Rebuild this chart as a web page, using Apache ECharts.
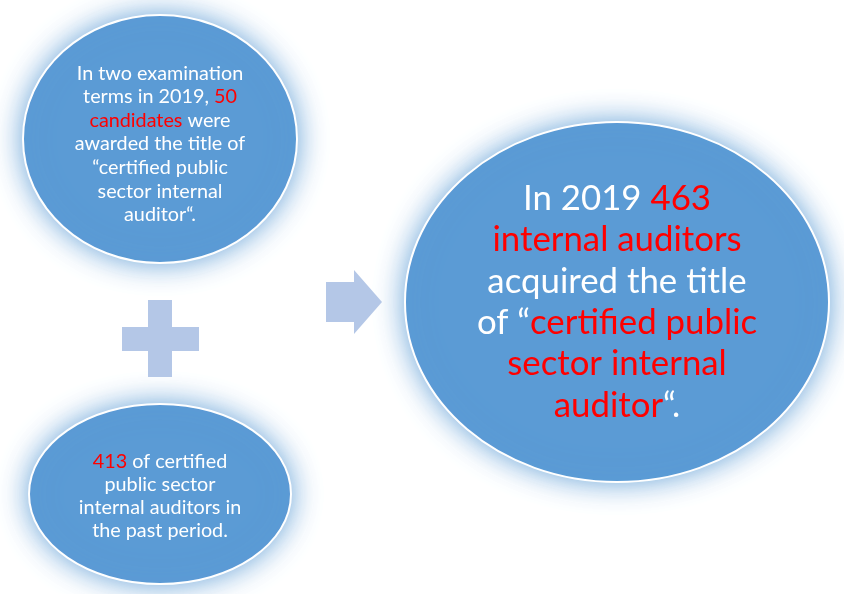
<!DOCTYPE html>
<html>
<head>
<meta charset="utf-8">
<script src="https://cdn.jsdelivr.net/npm/echarts@6/dist/echarts.min.js"></script>
<style>
  html, body { margin: 0; padding: 0; background: #fff; }
  #chart { width: 844px; height: 594px; }
</style>
</head>
<body>
<div id="chart"></div>
<script>
  // values shown in the diagram
  var year = 2019
  var newCertified = 50
  var pastCertified = 413
  var totalCertified = 463

  // text lines, each line is a list of [style, text] pieces
  var topLines = [
    [['w', 'In two examination']],
    [['w', 'terms in ' + year + ', '], ['r', String(newCertified)]],
    [['r', 'candidates'], ['w', ' were']],
    [['w', 'awarded the title of']],
    [['w', '\u201ccertified public']],
    [['w', 'sector internal']],
    [['w', 'auditor\u201c.']]
  ]
  var bottomLines = [
    [['r', String(pastCertified)], ['w', ' of certified']],
    [['w', 'public sector']],
    [['w', 'internal auditors in']],
    [['w', 'the past period.']]
  ]
  var bigLines = [
    [['w', 'In ' + year + ' '], ['r', String(totalCertified)]],
    [['r', 'internal auditors']],
    [['w', 'acquired the title']],
    [['w', 'of \u201c'], ['r', 'certified public']],
    [['r', 'sector internal']],
    [['r', 'auditor'], ['w', '\u201c.']]
  ]

  var FONT = 'Lato, "Open Sans", sans-serif'
  var BLUE = '#5b9bd5'
  var LIGHT = '#b4c7e7'

  function richText(lines) {
    return lines.map(function (line) {
      return line.map(function (p) { return '{' + p[0] + '|' + p[1] + '}' }).join('')
    }).join('\n')
  }

  function bubble(cx, cy, rx, ry, ty, lines, fontSize, lineHeight) {
    return {
      type: 'group',
      children: [
        {
          type: 'ellipse',
          shape: { cx: cx, cy: cy, rx: rx, ry: ry },
          style: {
            fill: BLUE,
            stroke: '#ffffff',
            lineWidth: 2,
            shadowBlur: 28,
            shadowColor: 'rgba(91,155,213,0.9)'
          }
        },
        {
          type: 'text',
          x: cx,
          y: ty,
          style: {
            text: richText(lines),
            align: 'center',
            verticalAlign: 'middle',
            rich: {
              w: { fill: '#ffffff', fontSize: fontSize, lineHeight: lineHeight, fontFamily: FONT },
              r: { fill: '#ff0000', fontSize: fontSize, lineHeight: lineHeight, fontFamily: FONT }
            }
          }
        }
      ]
    }
  }

  var chart = echarts.init(document.getElementById('chart'))
  chart.setOption({
    backgroundColor: '#ffffff',
    graphic: [
      bubble(160, 139, 137, 124, 144, topLines, 19.8, 23.6),
      bubble(160, 494, 131, 90, 496, bottomLines, 19.8, 23),
      bubble(617, 302, 212, 180, 302, bigLines, 34.8, 41.4),
      // plus sign
      {
        type: 'polygon',
        shape: {
          points: [[148, 300], [172, 300], [172, 327], [199, 327], [199, 351], [172, 351],
                   [172, 377], [148, 377], [148, 351], [122, 351], [122, 327], [148, 327]]
        },
        style: { fill: LIGHT }
      },
      // arrow
      {
        type: 'polygon',
        shape: {
          points: [[326, 282], [354, 282], [354, 270], [382, 302], [354, 334], [354, 322], [326, 322]]
        },
        style: { fill: LIGHT }
      }
    ]
  })
</script>
</body>
</html>
